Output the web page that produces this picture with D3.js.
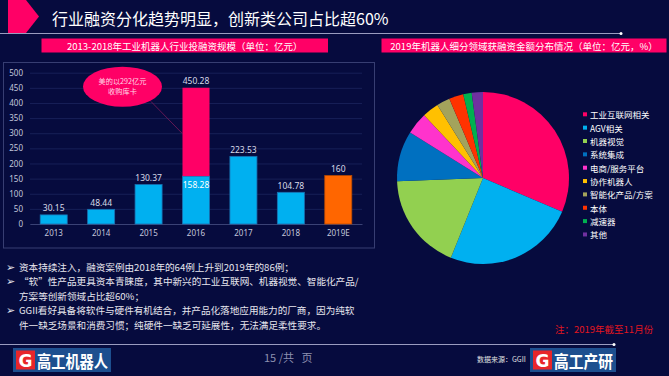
<!DOCTYPE html>
<html><head><meta charset="utf-8">
<script src="https://cdn.jsdelivr.net/npm/d3@7"></script>
<style>
html,body{margin:0;padding:0;background:#060b3e;}
svg{display:block;font-family:"Noto Sans CJK SC","Noto Sans",sans-serif;}
</style></head><body>
<svg id="c" width="669" height="376"></svg>
<script>
// ---------- data ----------
const years = ["2013","2014","2015","2016","2017","2018","2019E"];
const baseValues = [30.15, 48.44, 130.37, 158.28, 223.53, 104.78, 160];
const acquisitionValues = [0, 0, 0, 292, 0, 0, 0];
const yTicks = [0, 50, 100, 150, 200, 250, 300, 350, 400, 450, 500];
const pieCategories = ["工业互联网相关","AGV相关","机器视觉","系统集成","电商/服务平台","协作机器人","智能化产品/方案","本体","减速器","其他"];
const pieShares = [31.4, 24.7, 18.3, 9.5, 4.1, 3.1, 2.5, 2.7, 1.6, 2.1];
const bulletLines = [
  ["➢","资本持续注入，融资案例由2018年的64例上升到2019年的86例；"],
  ["➢","“软”性产品更具资本青睐度，其中新兴的工业互联网、机器视觉、智能化产品/"],
  ["","方案等创新领域占比超60%；"],
  ["➢","GGII看好具备将软件与硬件有机结合，并产品化落地应用能力的厂商，因为纯软"],
  ["","件一缺乏场景和消费习惯；纯硬件一缺乏可延展性，无法满足柔性要求。"]
];

// ---------- styles ----------
const BG = "#060b3e", PINK = "#ff0066", BLUE = "#00b0f0", ORANGE = "#ff6600";
const pieColors = ["#ff0066","#00b0f0","#92d050","#0070c0","#ff33cc","#ffc000","#a3a35c","#ff3300","#00b050","#7030a0"];

const svg = d3.select("#c");
svg.append("rect").attr("width",669).attr("height",376).attr("fill",BG);

// ---------- title ----------
svg.append("path").attr("d","M8,0H26L39,16.5L26,33H8Z").attr("fill",PINK);
svg.append("text").attr("x",52).attr("y",17.5).attr("dominant-baseline","central")
  .attr("font-size",16).attr("fill","#ffffff").text("行业融资分化趋势明显，创新类公司占比超60%");
svg.append("line").attr("x1",0).attr("x2",621).attr("y1",33.5).attr("y2",33.5)
  .attr("stroke","#9a9cc0").attr("stroke-width",1.2);
svg.append("circle").attr("cx",621).attr("cy",33.5).attr("r",1.5).attr("fill","#fff");

// ---------- headers ----------
function header(x,w,txt){
  svg.append("rect").attr("x",x).attr("y",38.5).attr("width",w).attr("height",14).attr("fill",PINK);
  svg.append("text").attr("x",x+w/2).attr("y",45.7).attr("text-anchor","middle").attr("dominant-baseline","central")
    .attr("font-size",9.5).attr("fill","#fff").text(txt);
}
header(41.5,286.5,"2013-2018年工业机器人行业投融资规模（单位：亿元）");
header(381.5,285,"2019年机器人细分领域获融资金额分布情况（单位：亿元，%）");

// ---------- bar chart ----------
svg.append("rect").attr("x",3.5).attr("y",62.5).attr("width",371).attr("height",185.5)
  .attr("fill","none").attr("stroke","#373e72").attr("stroke-width",1);

const x = d3.scaleBand().domain(years).range([30,362]).paddingInner(0.43).paddingOuter(0.215);
const y = d3.scaleLinear().domain([0,500]).range([224,72.7]);

const gy = svg.append("g").attr("transform","translate(30,0)")
  .call(d3.axisLeft(y).tickValues(yTicks).tickSize(-332).tickPadding(7).tickFormat(d3.format("d")));
gy.select(".domain").remove();
gy.selectAll(".tick line").attr("stroke","#1c265e").attr("stroke-width",0.8);
gy.selectAll(".tick text").attr("fill","#c4c7dc").attr("font-size",8).attr("font-family","'Noto Sans','Open Sans',sans-serif");

const gx = svg.append("g").attr("transform","translate(0,224)")
  .call(d3.axisBottom(x).tickSize(0).tickPadding(6));
gx.select(".domain").attr("stroke","#3a4275");
gx.selectAll(".tick text").attr("fill","#c4c7dc").attr("font-size",8).attr("font-family","'Noto Sans','Open Sans',sans-serif");

const barData = years.map((yr,i)=>({yr, base:baseValues[i], acq:acquisitionValues[i]}));
svg.append("g").selectAll("rect").data(barData).join("rect")
  .attr("x",d=>x(d.yr)).attr("width",x.bandwidth())
  .attr("y",d=>y(d.base)).attr("height",d=>y(0)-y(d.base))
  .attr("fill",d=>d.yr==="2019E"?ORANGE:BLUE)
  .attr("stroke",d=>d.yr==="2019E"?"#b84a00":"#1a6fb0").attr("stroke-width",0.8);
svg.append("g").selectAll("rect").data(barData.filter(d=>d.acq>0)).join("rect")
  .attr("x",d=>x(d.yr)).attr("width",x.bandwidth())
  .attr("y",d=>y(d.base+d.acq)).attr("height",d=>y(d.base)-y(d.base+d.acq))
  .attr("fill",PINK);

const fmt = v => d3.format(".2f")(v).replace(/\.00$/,"");
svg.append("g").selectAll("text").data(barData).join("text")
  .attr("x",d=>x(d.yr)+x.bandwidth()/2).attr("y",d=>y(d.base+d.acq)-7)
  .attr("text-anchor","middle").attr("dominant-baseline","central")
  .attr("font-size",8.5).attr("fill","#d8dae8").attr("font-family","'Noto Sans','Open Sans',sans-serif")
  .text(d=>fmt(+(d.base+d.acq).toFixed(2)));
svg.append("g").selectAll("text").data(barData.filter(d=>d.acq>0)).join("text")
  .attr("x",d=>x(d.yr)+x.bandwidth()/2).attr("y",d=>y(d.base)+8)
  .attr("text-anchor","middle").attr("dominant-baseline","central")
  .attr("font-size",8.5).attr("fill","#ffffff").attr("font-family","'Noto Sans','Open Sans',sans-serif")
  .text(d=>fmt(d.base));

// callout
const acq = barData.find(d=>d.acq>0);
svg.append("line").attr("x1",151).attr("y1",101.5).attr("x2",x(acq.yr)).attr("y2",y(acq.base+acq.acq*0.48))
  .attr("stroke","#7a1a5a").attr("stroke-width",0.8);
svg.append("ellipse").attr("cx",122.5).attr("cy",86.7).attr("rx",39.5).attr("ry",20).attr("fill",PINK);
svg.append("text").attr("x",122.5).attr("y",80.8).attr("text-anchor","middle").attr("dominant-baseline","central")
  .attr("font-size",7.2).attr("fill","#ffdbe8").text("美的以"+acq.acq+"亿元");
svg.append("text").attr("x",122.5).attr("y",90.8).attr("text-anchor","middle").attr("dominant-baseline","central")
  .attr("font-size",7.2).attr("fill","#ffdbe8").text("收购库卡");

// ---------- pie ----------
const pie = d3.pie().sort(null).value(d=>d.v);
const arc = d3.arc().innerRadius(0).outerRadius(86);
const pieData = pieCategories.map((c,i)=>({c, v:pieShares[i], col:pieColors[i]}));
svg.append("g").attr("transform","translate(483,178)")
  .selectAll("path").data(pie(pieData)).join("path")
  .attr("d",arc).attr("fill",d=>d.data.col);

const leg = svg.append("g").selectAll("g").data(pieData).join("g")
  .attr("transform",(d,i)=>`translate(583,${114.3+i*13.35})`);
leg.append("rect").attr("x",0).attr("y",-2).attr("width",4).attr("height",4).attr("fill",d=>d.col);
leg.append("text").attr("x",7).attr("y",0).attr("dominant-baseline","central")
  .attr("font-size",8.5).attr("fill","#fff").text(d=>d.c);

// ---------- bullets ----------
const bl = svg.append("g").selectAll("g").data(bulletLines).join("g")
  .attr("transform",(d,i)=>`translate(0,${266.5+i*14.5})`);
bl.append("text").attr("x",6).attr("y",0.5).attr("dominant-baseline","central")
  .attr("font-size",11).attr("fill","#e6e6ee").attr("font-family","'DejaVu Sans',sans-serif").text(d=>d[0]);
bl.append("text").attr("x",19).attr("y",0).attr("dominant-baseline","central")
  .attr("font-size",9.6).attr("fill","#e6e6ee").text(d=>d[1]);

svg.append("text").attr("x",555).attr("y",328.5).attr("dominant-baseline","central")
  .attr("font-size",9.5).attr("fill","#e3161e").text("注：2019年截至11月份");

// ---------- footer ----------
svg.append("line").attr("x1",0).attr("x2",614).attr("y1",344.5).attr("y2",344.5)
  .attr("stroke","#9a9cc0").attr("stroke-width",1.2);
svg.append("circle").attr("cx",614).attr("cy",344.5).attr("r",1.5).attr("fill","#fff");

svg.append("text").attr("x",264).attr("y",357).attr("dominant-baseline","central")
  .attr("font-size",11).attr("fill","#8c90b0").style("white-space","pre").text("15 /共   页");
svg.append("text").attr("x",477).attr("y",359).attr("dominant-baseline","central")
  .attr("font-size",7).attr("fill","#e0e0e0").text("数据来源：GGII");

function logo(x0,w,txt){
  svg.append("rect").attr("x",x0).attr("y",348).attr("width",w).attr("height",24).attr("fill","#1d4f8f");
  svg.append("rect").attr("x",x0+3).attr("y",350.5).attr("width",19).attr("height",19).attr("fill","#e8262a");
  svg.append("text").attr("x",x0+12.5).attr("y",360.5).attr("text-anchor","middle").attr("dominant-baseline","central")
    .attr("font-size",17).attr("font-weight","bold").attr("fill","#fff").attr("font-family","'DejaVu Sans',sans-serif").text("G");
  svg.append("text").attr("x",x0+24).attr("y",360).attr("dominant-baseline","central")
    .attr("font-size",17).attr("font-weight","bold").attr("fill","#fff")
    .attr("textLength",w-27).attr("lengthAdjust","spacingAndGlyphs").text(txt);
}
logo(13,98,"高工机器人");
logo(530,86,"高工产研");
</script>
</body></html>
